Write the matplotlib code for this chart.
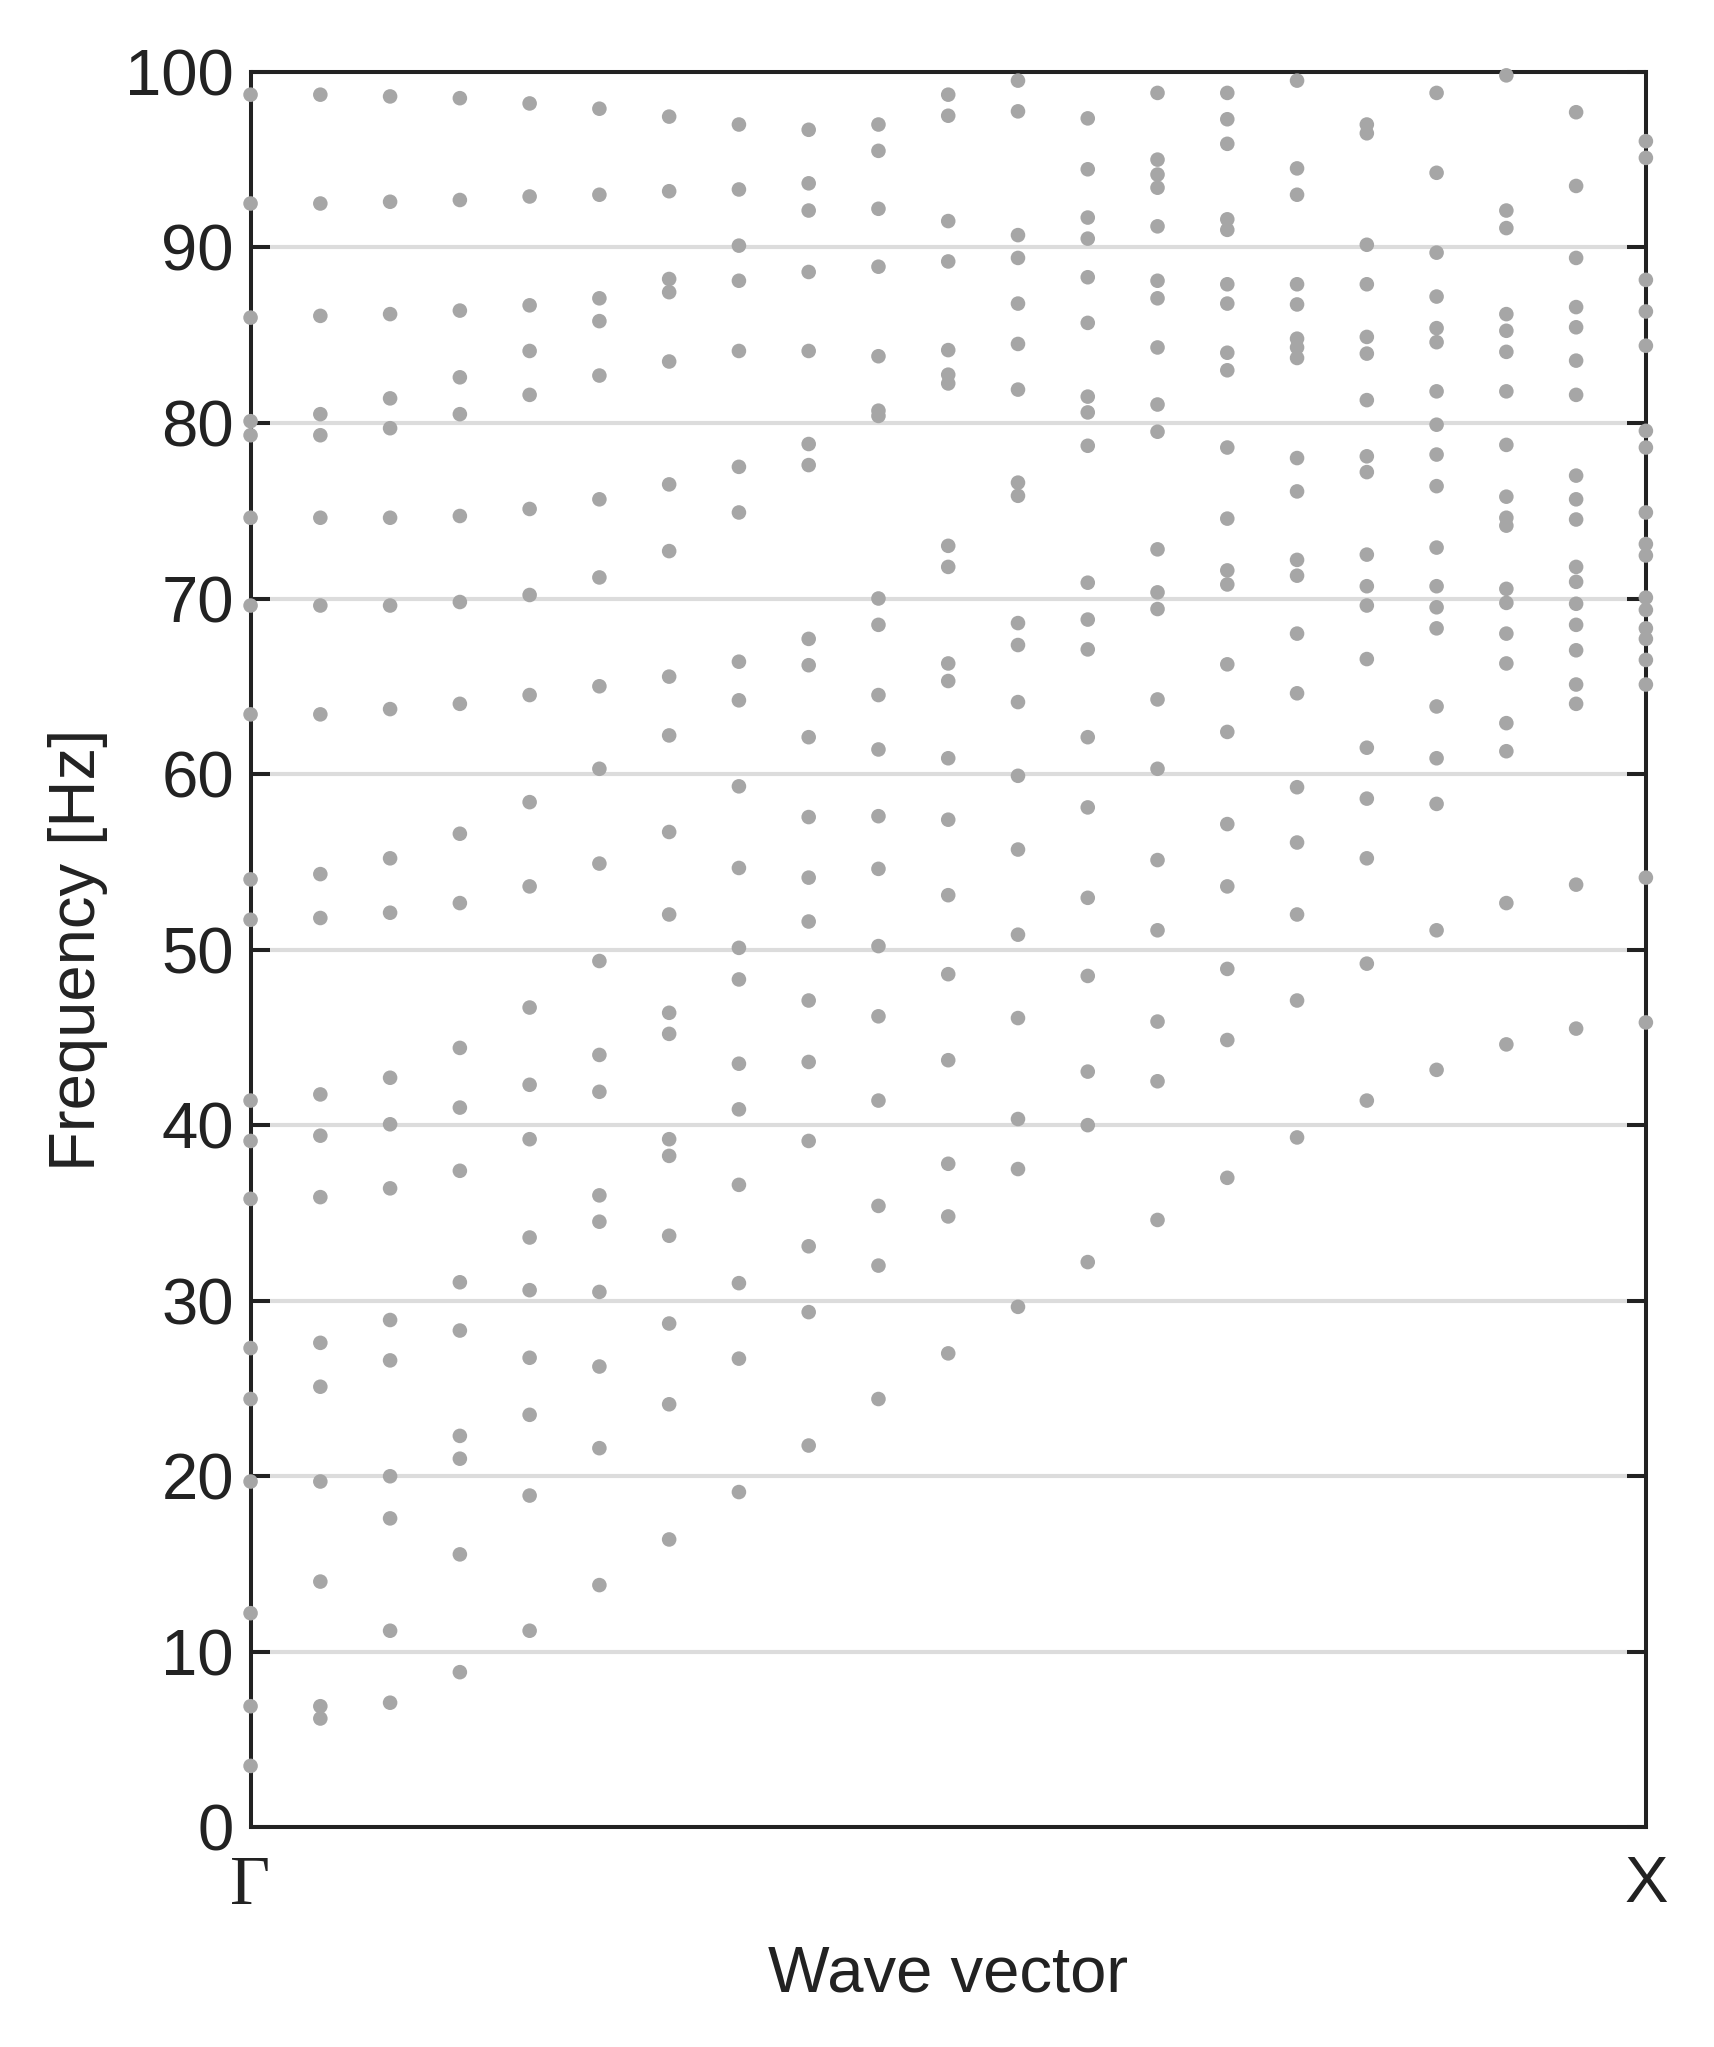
import matplotlib
matplotlib.use("Agg")
import matplotlib.pyplot as plt

# wave-vector sample positions (Gamma -> X)
k_index = list(range(21))
tick_positions = [0, 20]
tick_labels = ["Γ", "X"]

# frequencies [Hz] at each wave-vector sample
f_k00 = [98.7, 92.5, 86.0, 80.1, 79.3, 74.6, 69.6, 63.4, 54.0, 51.7, 41.4, 39.1, 35.8, 27.3, 24.4, 19.7, 12.2, 6.9, 3.5]
f_k01 = [98.7, 92.5, 86.1, 80.5, 79.3, 74.6, 69.6, 63.4, 54.3, 51.8, 41.75, 39.4, 35.9, 27.6, 25.1, 19.7, 14.0, 6.9, 6.2]
f_k02 = [98.6, 92.6, 86.2, 81.4, 79.7, 74.6, 69.6, 63.7, 55.2, 52.1, 42.7, 40.05, 36.4, 28.9, 26.6, 20.0, 17.6, 11.2, 7.1]
f_k03 = [98.5, 92.7, 86.4, 82.6, 80.5, 74.7, 69.8, 64.0, 56.6, 52.65, 44.4, 41.0, 37.4, 31.05, 28.3, 22.3, 21.0, 15.55, 8.84]
f_k04 = [98.2, 92.9, 86.7, 84.1, 81.6, 75.1, 70.2, 64.5, 58.4, 53.6, 46.7, 42.3, 39.2, 33.6, 30.6, 26.75, 23.5, 18.9, 11.2]
f_k05 = [97.9, 93.0, 87.1, 85.8, 82.7, 75.65, 71.2, 65.0, 60.3, 54.9, 49.35, 44.0, 41.9, 36.0, 34.5, 30.5, 26.25, 21.6, 13.8]
f_k06 = [97.45, 93.2, 88.2, 87.45, 83.5, 76.5, 72.7, 65.55, 62.2, 56.7, 52.0, 46.4, 45.2, 39.2, 38.25, 33.7, 28.7, 24.1, 16.4]
f_k07 = [97.0, 93.3, 90.1, 88.1, 84.1, 77.5, 74.9, 66.4, 64.2, 59.3, 54.65, 50.1, 48.3, 43.5, 40.9, 36.6, 31.0, 26.7, 19.1]
f_k08 = [96.7, 93.65, 92.1, 88.6, 84.1, 78.8, 77.6, 67.7, 66.2, 62.1, 57.55, 54.1, 51.6, 47.1, 43.6, 39.1, 33.1, 29.35, 21.75]
f_k09 = [97.0, 95.5, 92.2, 88.9, 83.8, 80.7, 80.4, 70.0, 68.5, 64.5, 61.4, 57.6, 54.6, 50.2, 46.2, 41.4, 35.4, 32.0, 24.4]
f_k10 = [98.7, 97.5, 91.5, 89.2, 84.15, 82.75, 82.25, 73.0, 71.8, 66.3, 65.3, 60.9, 57.4, 53.1, 48.6, 43.7, 37.8, 34.8, 27.0]
f_k11 = [99.5, 97.75, 90.7, 89.4, 86.8, 84.5, 81.9, 76.6, 75.85, 68.6, 67.35, 64.1, 59.9, 55.7, 50.85, 46.1, 40.35, 37.5, 29.65]
f_k12 = [97.35, 94.45, 91.7, 90.5, 88.3, 85.7, 81.5, 80.6, 78.7, 70.9, 68.8, 67.1, 62.1, 58.1, 52.95, 48.5, 43.05, 40.0, 32.2]
f_k13 = [98.8, 95.0, 94.15, 93.4, 91.2, 88.1, 87.1, 84.3, 81.05, 79.5, 72.8, 70.35, 69.4, 64.25, 60.3, 55.1, 51.1, 45.9, 42.5, 34.6]
f_k14 = [98.8, 97.3, 95.9, 91.6, 91.0, 87.9, 86.8, 84.0, 83.0, 78.6, 74.55, 71.6, 70.8, 66.25, 62.4, 57.15, 53.6, 48.9, 44.85, 37.0]
f_k15 = [99.5, 94.5, 93.0, 87.9, 86.75, 84.8, 84.3, 83.7, 78.0, 76.1, 72.2, 71.3, 68.0, 64.6, 59.25, 56.1, 52.0, 47.1, 39.3]
f_k16 = [97.0, 96.5, 90.15, 87.9, 84.9, 83.95, 81.3, 78.1, 77.2, 72.5, 70.7, 69.6, 66.55, 61.5, 58.6, 55.2, 49.2, 41.4]
f_k17 = [98.8, 94.25, 89.7, 87.2, 85.4, 84.6, 81.8, 79.9, 78.2, 76.4, 72.9, 70.7, 69.5, 68.3, 63.85, 60.9, 58.3, 51.1, 43.15]
f_k18 = [99.8, 92.1, 91.1, 86.2, 85.25, 84.05, 81.8, 78.75, 75.8, 74.6, 74.15, 70.55, 69.75, 68.0, 66.3, 62.9, 61.3, 52.65, 44.6]
f_k19 = [97.7, 93.5, 89.4, 86.6, 85.45, 83.55, 81.6, 77.0, 75.65, 74.5, 71.8, 70.95, 69.7, 68.5, 67.05, 65.1, 64.0, 53.7, 45.5]
f_k20 = [96.05, 95.1, 88.15, 86.35, 84.4, 79.55, 78.6, 74.9, 73.1, 72.45, 70.05, 69.35, 68.3, 67.7, 66.5, 65.1, 54.1, 45.85]

columns = [f_k00, f_k01, f_k02, f_k03, f_k04, f_k05, f_k06, f_k07, f_k08, f_k09, f_k10,
           f_k11, f_k12, f_k13, f_k14, f_k15, f_k16, f_k17, f_k18, f_k19, f_k20]

yticks = list(range(0, 101, 10))

plt.rcParams['font.family'] = ['Liberation Sans', 'DejaVu Sans']
dark = '#222222'
fs = 47

fig = plt.figure(figsize=(17.15, 20.47), dpi=100)
ax = fig.add_axes([0.1461, 0.1073, 0.9597 - 0.1461, 0.9649 - 0.1073])

xs, ys = [], []
for k, freqs in zip(k_index, columns):
    xs.extend([k] * len(freqs))
    ys.extend(freqs)
ax.scatter(xs, ys, s=110, color='#a6a6a6', edgecolors='none', zorder=3, clip_on=False)

ax.set_xlim(0, 20)
ax.set_ylim(0, 100)
ax.set_yticks(yticks)
ax.set_xticks(tick_positions)
ax.set_xticklabels(tick_labels)

ax.set_axisbelow(True)
ax.yaxis.grid(True, color='#dcdcdc', linewidth=3)
ax.xaxis.grid(False)

for sp in ax.spines.values():
    sp.set_linewidth(2.9)
    sp.set_color(dark)

ax.tick_params(axis='y', which='both', direction='in', length=14, width=2.9, color=dark,
               left=True, right=True, labelsize=fs, labelcolor=dark, pad=12)
ax.tick_params(axis='x', which='both', length=0, labelsize=fs, labelcolor=dark, pad=20)

xt = ax.get_xticklabels()
xt[0].set_fontfamily(['Liberation Serif', 'DejaVu Serif'])
xt[0].set_fontsize(fs + 3)

ax.set_xlabel('Wave vector', fontsize=fs, color=dark)
ax.set_ylabel('Frequency [Hz]', fontsize=fs, color=dark)
ax.xaxis.label.set_va('center')
ax.yaxis.label.set_va('center')
ax.xaxis.set_label_coords(0.5, -0.084)
ax.yaxis.set_label_coords(-0.1237, 0.5)

fig.savefig('out.png', dpi=100, facecolor='white')
